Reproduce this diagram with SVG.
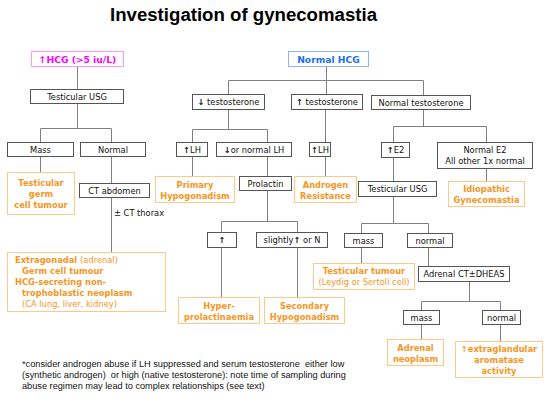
<svg xmlns="http://www.w3.org/2000/svg" width="550" height="402" viewBox="0 0 550 402">
<style>
.bg{fill:#fff}
.b{fill:#fff;stroke:#555;stroke-width:1}
.o{fill:#fff;stroke:#FDC988;stroke-width:1}
.t{font-family:"DejaVu Sans",Verdana,sans-serif;font-size:8.3px;fill:#111;text-anchor:middle}
.ot{font-family:"DejaVu Sans",Verdana,sans-serif;font-size:8.3px;fill:#F7961E;font-weight:bold;text-anchor:middle}
.ol{font-family:"DejaVu Sans",Verdana,sans-serif;font-size:8.3px;fill:#F7961E;font-weight:bold}
.n{font-weight:normal}
.a{font-weight:bold}
.c{fill:none;stroke:#808080;stroke-width:1}
.fn{font-family:"Liberation Sans",Arial,sans-serif;font-size:9.2px;fill:#111;white-space:pre}
</style>
<rect class="bg" x="0" y="0" width="550" height="402"/>
<text x="110" y="21" textLength="267" lengthAdjust="spacingAndGlyphs" style="font-family:'Liberation Sans',Arial,sans-serif;font-size:17.5px;font-weight:bold;fill:#000">Investigation of gynecomastia</text>
<g id="connectors">
<path class="c" d="M77.5,66V89M77.5,103V128.5M40.5,128.5H111.5M40.5,128.5V142M111.5,128.5V142M40.5,156V172M111.5,156V183M111.5,197V252"/>
<path class="c" d="M326.5,66V94M228.5,80.5H423.5M228.5,80.5V94M423.5,80.5V95"/>
<path class="c" d="M228.5,109V129.5M192.5,129.5H267.5M192.5,129.5V142M267.5,129.5V142M192.5,156V176M267.5,156V176M267.5,190V221.5M221.5,221.5H297.5M221.5,221.5V232M297.5,221.5V232M221.5,247V297M297.5,247V297"/>
<path class="c" d="M325.5,109V142M325.5,156V176"/>
<path class="c" d="M423.5,109V126.5M393.5,126.5H486.5M393.5,126.5V142M486.5,126.5V142M393.5,157V181M486.5,168V181M393.5,196V223.5M361.5,223.5H428.5M361.5,223.5V233M428.5,223.5V233M361.5,247V263M428.5,247V266M469.5,281V301.5M421.5,301.5H500.5M421.5,301.5V310M500.5,301.5V310M421.5,324V339M500.5,324V341"/>
</g>
<g id="hcg_high"><rect x="31.5" y="51.5" width="92" height="15" style="fill:#fff;stroke:#FF99FF"/><text x="77.5" y="62.5" class="t" style="font-size:9.2px;font-weight:bold;fill:#FF00FF">↑HCG (&gt;5 iu/L)</text></g>
<g id="usg1"><rect class="b" x="30.5" y="89.5" width="93" height="14"/><text class="t" x="77" y="99.5">Testicular USG</text></g>
<g id="mass1"><rect class="b" x="7.5" y="142.5" width="66" height="14"/><text class="t" x="40.5" y="152.5">Mass</text></g>
<g id="normal1"><rect class="b" x="80.5" y="142.5" width="65" height="14"/><text class="t" x="113" y="152.5">Normal</text></g>
<g id="germ"><rect class="o" x="7.5" y="172.5" width="67" height="42"/><text class="ot" x="41" y="186">Testicular</text><text class="ot" x="41" y="197">germ</text><text class="ot" x="41" y="208">cell tumour</text></g>
<g id="ctabd"><rect class="b" x="79.5" y="183.5" width="70" height="14"/><text class="t" x="114.5" y="193.5">CT abdomen</text></g>
<text class="t" x="114" y="216" style="text-anchor:start">± CT thorax</text>
<g id="extragonadal"><rect class="o" x="7.5" y="252.5" width="158" height="59"/>
<text class="ol" x="15" y="263">Extragonadal <tspan class="n">(adrenal)</tspan></text>
<text class="ol" x="22" y="274">Germ cell tumour</text>
<text class="ol" x="15" y="285">HCG-secreting non-</text>
<text class="ol" x="22" y="296">trophoblastic neoplasm</text>
<text class="ol n" x="22" y="307">(CA lung, liver, kidney)</text></g>
<g id="hcg_normal"><rect x="288.5" y="51.5" width="80" height="15" style="fill:#fff;stroke:#8FB4F5"/><text x="328.5" y="62.5" class="t" style="font-size:9.2px;font-weight:bold;fill:#1B6FF0">Normal HCG</text></g>
<g id="test_low"><rect class="b" x="192.5" y="94.5" width="72" height="15"/><text class="t" x="228.5" y="105"><tspan class="a">↓</tspan> testosterone</text></g>
<g id="test_high"><rect class="b" x="291.5" y="94.5" width="71" height="15"/><text class="t" x="327" y="105"><tspan class="a">↑</tspan> testosterone</text></g>
<g id="test_normal"><rect class="b" x="371.5" y="95.5" width="99" height="14"/><text class="t" x="421" y="105.5">Normal testosterone</text></g>
<g id="lh_high1"><rect class="b" x="176.5" y="142.5" width="31" height="14"/><text class="t" x="192" y="152.5"><tspan class="a">↑</tspan>LH</text></g>
<g id="lh_low"><rect class="b" x="216.5" y="142.5" width="75" height="14"/><text class="t" x="254" y="152.5"><tspan class="a">↓</tspan>or normal LH</text></g>
<g id="primary"><rect class="o" x="155.5" y="176.5" width="79" height="26"/><text class="ot" x="195" y="187.5">Primary</text><text class="ot" x="195" y="198.5">Hypogonadism</text></g>
<g id="prolactin"><rect class="b" x="239.5" y="176.5" width="52" height="14"/><text class="t" x="265.5" y="186.5">Prolactin</text></g>
<g id="lh_high2"><rect class="b" x="309.5" y="142.5" width="21" height="14"/><text class="t" x="320" y="152.5"><tspan class="a">↑</tspan>LH</text></g>
<g id="androgen"><rect class="o" x="294.5" y="176.5" width="62" height="26"/><text class="ot" x="325.5" y="187.5">Androgen</text><text class="ot" x="325.5" y="198.5">Resistance</text></g>
<g id="e2_high"><rect class="b" x="381.5" y="142.5" width="28" height="15"/><text class="t" x="395.5" y="153"><tspan class="a">↑</tspan>E2</text></g>
<g id="e2_normal"><rect class="b" x="437.5" y="142.5" width="95" height="26"/><text class="t" x="485" y="152.5">Normal E2</text><text class="t" x="485" y="163.5">All other 1x normal</text></g>
<g id="idiopathic"><rect class="o" x="448.5" y="181.5" width="76" height="25"/><text class="ot" x="486.5" y="191.5">Idiopathic</text><text class="ot" x="486.5" y="202.5">Gynecomastia</text></g>
<g id="usg2"><rect class="b" x="358.5" y="181.5" width="78" height="15"/><text class="t" x="397.5" y="191.5">Testicular USG</text></g>
<g id="prl_high"><rect class="b" x="207.5" y="232.5" width="29" height="15"/><text class="t a" x="222" y="243">↑</text></g>
<g id="prl_slight"><rect class="b" x="256.5" y="232.5" width="71" height="15"/><text class="t" x="292" y="243">slightly<tspan class="a">↑</tspan> or N</text></g>
<g id="hyperprl"><rect class="o" x="178.5" y="297.5" width="81" height="26"/><text class="ot" x="219" y="308.5">Hyper-</text><text class="ot" x="219" y="319.5">prolactinaemia</text></g>
<g id="secondary"><rect class="o" x="264.5" y="297.5" width="80" height="26"/><text class="ot" x="304.5" y="308.5">Secondary</text><text class="ot" x="304.5" y="319.5">Hypogonadism</text></g>
<g id="mass2"><rect class="b" x="344.5" y="233.5" width="38" height="14"/><text class="t" x="363.5" y="243.5">mass</text></g>
<g id="normal2"><rect class="b" x="407.5" y="233.5" width="45" height="14"/><text class="t" x="430" y="243.5">normal</text></g>
<g id="testtumour"><rect class="o" x="313.5" y="263.5" width="101" height="26"/><text class="ot" x="364" y="274">Testicular tumour</text><text class="ot n" x="364" y="285">(Leydig or Sertoli cell)</text></g>
<g id="adrenalct"><rect class="b" x="418.5" y="266.5" width="91" height="15"/><text class="t" x="464" y="277">Adrenal CT±DHEAS</text></g>
<g id="mass3"><rect class="b" x="403.5" y="310.5" width="36" height="14"/><text class="t" x="421.5" y="320.5">mass</text></g>
<g id="normal3"><rect class="b" x="482.5" y="310.5" width="38" height="14"/><text class="t" x="501.5" y="320.5">normal</text></g>
<g id="adrenalneo"><rect class="o" x="387.5" y="339.5" width="56" height="26"/><text class="ot" x="415.5" y="350.5">Adrenal</text><text class="ot" x="415.5" y="361.5">neoplasm</text></g>
<g id="aromatase"><rect class="o" x="455.5" y="341.5" width="87" height="36"/><text class="ot" x="499" y="351.5">↑extraglandular</text><text class="ot" x="499" y="362.5">aromatase</text><text class="ot" x="499" y="374">activity</text></g>
<g id="footnote">
<text class="fn" x="22" y="367" xml:space="preserve">*consider androgen abuse if LH suppressed and serum testosterone  either low</text>
<text class="fn" x="22" y="378" xml:space="preserve">(synthetic androgen)  or high (native testosterone): note time of sampling during</text>
<text class="fn" x="22" y="389">abuse regimen may lead to complex relationships (see text)</text>
</g>
</svg>
